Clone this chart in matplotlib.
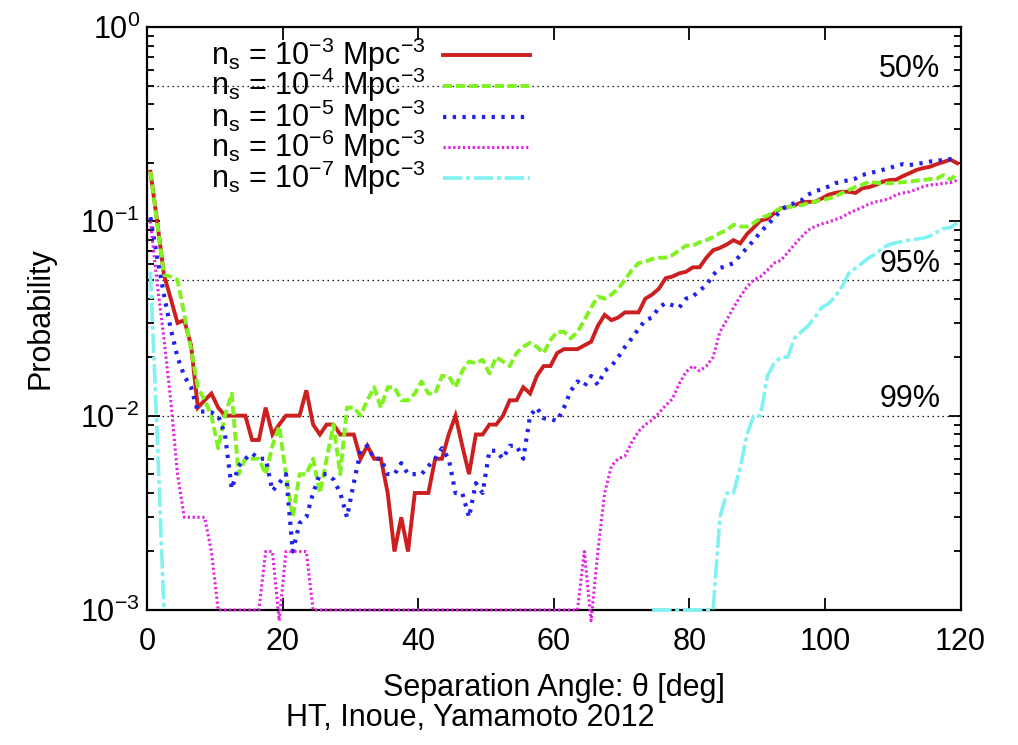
import numpy as np
import matplotlib
matplotlib.use("Agg")
import matplotlib.pyplot as plt
from matplotlib.lines import Line2D
from matplotlib.ticker import NullFormatter, LogLocator, FixedLocator

plt.rcParams['font.family'] = ['Liberation Sans', 'DejaVu Sans']
plt.rcParams['mathtext.fontset'] = 'custom'
plt.rcParams['mathtext.rm'] = 'Liberation Sans'
plt.rcParams['mathtext.it'] = 'Liberation Sans:italic'
plt.rcParams['mathtext.bf'] = 'Liberation Sans:bold'
plt.rcParams['lines.scale_dashes'] = False

nan = np.nan

# bin centres of separation angle [deg]
theta = np.arange(120) + 0.5

p_1e3 = [0.18, 0.10, 0.053, 0.040, 0.030, 0.031, 0.023, 0.011, 0.012, 0.013,
         0.011, 0.010, 0.010, 0.010, 0.010, 0.0075, 0.0075, 0.011, 0.008, 0.009,
         0.010, 0.010, 0.010, 0.0135, 0.009, 0.008, 0.009, 0.009, 0.008, 0.008,
         0.008, 0.006, 0.007, 0.006, 0.006, 0.004, 0.002, 0.003, 0.002, 0.004,
         0.004, 0.004, 0.006, 0.006, 0.008, 0.010, 0.007, 0.005, 0.008, 0.008,
         0.009, 0.009, 0.010, 0.012, 0.012, 0.014, 0.013, 0.016, 0.018, 0.018,
         0.021, 0.022, 0.022, 0.022, 0.023, 0.024, 0.029, 0.033, 0.031, 0.032,
         0.034, 0.034, 0.034, 0.040, 0.042, 0.045, 0.051, 0.052, 0.054, 0.055,
         0.058, 0.058, 0.065, 0.071, 0.073, 0.076, 0.080, 0.077, 0.086, 0.093,
         0.101, 0.103, 0.110, 0.117, 0.118, 0.121, 0.125, 0.126, 0.126, 0.131,
         0.137, 0.140, 0.142, 0.142, 0.140, 0.148, 0.150, 0.154, 0.160, 0.163,
         0.164, 0.171, 0.177, 0.184, 0.188, 0.191, 0.197, 0.202, 0.208, 0.199]

p_1e4 = [0.18, 0.098, 0.053, 0.052, 0.050, 0.033, 0.022, 0.014, 0.012, 0.010,
         0.0068, 0.010, 0.013, 0.005, 0.006, 0.006, 0.006, 0.005, 0.007, 0.0088,
         0.005, 0.003, 0.005, 0.005, 0.006, 0.004, 0.006, 0.009, 0.005, 0.011,
         0.011, 0.010, 0.012, 0.014, 0.011, 0.014, 0.014, 0.012, 0.012, 0.013,
         0.015, 0.013, 0.013, 0.016, 0.016, 0.014, 0.017, 0.019, 0.0186, 0.0194,
         0.0165, 0.020, 0.019, 0.018, 0.021, 0.0226, 0.0237, 0.0226, 0.021, 0.0245,
         0.027, 0.027, 0.025, 0.027, 0.031, 0.036, 0.041, 0.040, 0.042, 0.045,
         0.050, 0.056, 0.061, 0.062, 0.064, 0.065, 0.065, 0.067, 0.071, 0.075,
         0.075, 0.078, 0.080, 0.083, 0.087, 0.090, 0.096, 0.094, 0.094, 0.098,
         0.104, 0.107, 0.112, 0.117, 0.118, 0.120, 0.121, 0.124, 0.126, 0.129,
         0.131, 0.134, 0.140, 0.145, 0.150, 0.154, 0.160, 0.158, 0.157, 0.157,
         0.158, 0.159, 0.160, 0.162, 0.163, 0.165, 0.166, 0.173, 0.164, 0.176]

p_1e5 = [0.105, 0.065, 0.042, 0.028, 0.020, 0.016, 0.014, 0.0105, 0.0105, 0.0104,
         0.010, 0.008, 0.0042, 0.0055, 0.006, 0.0064, 0.006, 0.006, 0.0041, 0.0045,
         0.005, 0.002, 0.0028, 0.003, 0.004, 0.005, 0.005, 0.0047, 0.004, 0.003,
         0.0045, 0.0066, 0.007, 0.006, 0.006, 0.005, 0.005, 0.0057, 0.005, 0.005,
         0.005, 0.0055, 0.006, 0.0068, 0.006, 0.004, 0.004, 0.003, 0.0045, 0.004,
         0.0066, 0.0066, 0.006, 0.007, 0.007, 0.006, 0.010, 0.011, 0.0097, 0.0096,
         0.0094, 0.011, 0.0134, 0.015, 0.0142, 0.016, 0.0144, 0.017, 0.018, 0.020,
         0.0226, 0.025, 0.028, 0.031, 0.032, 0.036, 0.038, 0.037, 0.036, 0.040,
         0.041, 0.044, 0.047, 0.053, 0.0575, 0.059, 0.061, 0.067, 0.073, 0.080,
         0.088, 0.096, 0.104, 0.114, 0.121, 0.124, 0.128, 0.137, 0.143, 0.146,
         0.151, 0.157, 0.160, 0.163, 0.166, 0.173, 0.177, 0.180, 0.184, 0.188,
         0.193, 0.197, 0.195, 0.197, 0.200, 0.203, 0.205, 0.207, 0.209, 0.213]

p_1e6 = [0.100, 0.048, 0.025, 0.012, 0.005, 0.003, 0.003, 0.003, 0.003, 0.002,
         0.001, 0.001, 0.001, 0.001, 0.001, 0.001, 0.001, 0.002, 0.002, 0.00088,
         0.002, 0.002, 0.002, 0.002, 0.001, 0.001, 0.001, 0.001, 0.001, 0.001,
         0.001, 0.001, 0.001, 0.001, 0.001, 0.001, 0.001, 0.001, 0.001, 0.001,
         0.001, 0.001, 0.001, 0.001, 0.001, 0.001, 0.001, 0.001, 0.001, 0.001,
         0.001, 0.001, 0.001, 0.001, 0.001, 0.001, 0.001, 0.001, 0.001, 0.001,
         0.001, 0.001, 0.001, 0.001, 0.002, 0.00088, 0.002, 0.004, 0.0055, 0.006,
         0.0062, 0.0073, 0.0083, 0.009, 0.0095, 0.0103, 0.0113, 0.0122, 0.0146, 0.0168,
         0.018, 0.017, 0.018, 0.020, 0.027, 0.031, 0.036, 0.041, 0.046, 0.050,
         0.052, 0.056, 0.061, 0.063, 0.069, 0.076, 0.083, 0.090, 0.094, 0.097,
         0.099, 0.102, 0.105, 0.110, 0.114, 0.118, 0.123, 0.126, 0.128, 0.131,
         0.137, 0.140, 0.142, 0.146, 0.151, 0.154, 0.155, 0.157, 0.158, 0.163]

p_1e7 = [0.055, 0.008, 0.001, nan, nan, nan, nan, nan, nan, nan,
         nan, nan, nan, nan, nan, nan, nan, nan, nan, nan,
         nan, nan, nan, nan, nan, nan, nan, nan, nan, nan,
         nan, nan, nan, nan, nan, nan, nan, nan, nan, nan,
         nan, nan, nan, nan, nan, nan, nan, nan, nan, nan,
         nan, nan, nan, nan, nan, nan, nan, nan, nan, nan,
         nan, nan, nan, nan, nan, nan, nan, nan, nan, nan,
         nan, nan, nan, nan, 0.001, 0.001, 0.001, 0.001, 0.001, 0.001,
         0.001, 0.001, 0.001, 0.001, 0.003, 0.004, 0.004, 0.0054, 0.008, 0.010,
         0.010, 0.016, 0.0186, 0.020, 0.020, 0.025, 0.027, 0.029, 0.032, 0.036,
         0.0376, 0.041, 0.046, 0.054, 0.0575, 0.061, 0.065, 0.068, 0.073, 0.076,
         0.0775, 0.079, 0.080, 0.081, 0.082, 0.084, 0.088, 0.092, 0.093, 0.098]

series_labels = [r'n$_\mathregular{s}$ = 10$^\mathregular{-3}$ Mpc$^\mathregular{-3}$',
                 r'n$_\mathregular{s}$ = 10$^\mathregular{-4}$ Mpc$^\mathregular{-3}$',
                 r'n$_\mathregular{s}$ = 10$^\mathregular{-5}$ Mpc$^\mathregular{-3}$',
                 r'n$_\mathregular{s}$ = 10$^\mathregular{-6}$ Mpc$^\mathregular{-3}$',
                 r'n$_\mathregular{s}$ = 10$^\mathregular{-7}$ Mpc$^\mathregular{-3}$']
series = [p_1e3, p_1e4, p_1e5, p_1e6, p_1e7]

levels = [0.5, 0.05, 0.01]
level_labels = ['50%', '95%', '99%']

xticks = [0, 20, 40, 60, 80, 100, 120]
yticks = [1e-3, 1e-2, 1e-1, 1e0]
ytick_labels = [r'$\mathregular{10^{-3}}$', r'$\mathregular{10^{-2}}$',
                r'$\mathregular{10^{-1}}$', r'$\mathregular{10^{0}}$']

styles = [
    dict(color='#cc1f1f', lw=2.8, dashes=()),
    dict(color='#7ff21f', lw=2.8, dashes=(6.5, 2.8)),
    dict(color='#2222ee', lw=3.0, dashes=(2.4, 4.6)),
    dict(color='#e61ee6', lw=2.2, dashes=(1.6, 1.9)),
    dict(color='#80f2f2', lw=2.6, dashes=(14, 2.6, 3, 2.6)),
]

W, H = 1018, 745
fig = plt.figure(figsize=(W / 100, H / 100), dpi=100)
L, R, T, B = 147, 960.6, 27, 610
ax = fig.add_axes([L / W, 1 - B / H, (R - L) / W, (B - T) / H])

FS = 22

ax.set_yscale('log')
ax.set_xlim(0, 120)
ax.set_ylim(1e-3, 1)

for lv in levels:
    ax.axhline(lv, color='black', lw=0.9, dashes=(1.0, 2.6), zorder=1)

for vals, st in zip(series, styles):
    ln, = ax.plot(theta, vals, color=st['color'], lw=st['lw'], zorder=4,
                  clip_on=False, solid_joinstyle='miter')
    if st['dashes']:
        ln.set_dashes(st['dashes'])

for lv, lab in zip(levels, level_labels):
    ax.annotate(lab, xy=(117.0, lv), xytext=(0, 6), textcoords='offset points',
                ha='right', va='baseline', fontsize=FS)

# key (gnuplot style: text then sample)
row_px = [55, 85.5, 116.7, 146.7, 177.7]
for rp, lab, st in zip(row_px, series_labels, styles):
    ya = (B - rp) / (B - T)
    x_text = (426 - L) / (R - L)
    ax.text(x_text, (B - rp - 10) / (B - T), lab, transform=ax.transAxes,
            ha='right', va='baseline', fontsize=FS)
    sample = Line2D([(443 - L) / (R - L), (530 - L) / (R - L)], [ya, ya],
                    transform=ax.transAxes, color=st['color'], lw=st['lw'],
                    zorder=5)
    if st['dashes']:
        sample.set_dashes(st['dashes'])
    ax.add_line(sample)

ax.set_xticks(xticks)
ax.set_xticklabels([str(v) for v in xticks])
ax.yaxis.set_major_locator(FixedLocator(yticks))
ax.set_yticklabels(ytick_labels)
ax.yaxis.set_minor_locator(LogLocator(base=10, subs=np.arange(2, 10)))
ax.yaxis.set_minor_formatter(NullFormatter())

ax.tick_params(which='both', direction='in', top=True, right=True,
               labelsize=FS, width=1.3)
ax.tick_params(which='major', length=9)
ax.tick_params(which='minor', length=5)
ax.tick_params(axis='x', pad=12)
ax.tick_params(axis='y', pad=5)

for sp in ax.spines.values():
    sp.set_linewidth(1.6)
    sp.set_zorder(3)

ax.set_xlabel(r'Separation Angle: θ [deg]', fontsize=FS)
ax.xaxis.label.set_va('center')
ax.xaxis.set_label_coords(0.5, (B - 688) / (B - T))
ax.set_ylabel('Probability', fontsize=FS)
ax.yaxis.label.set_va('center')
ax.yaxis.set_label_coords((40 - L) / (R - L), 0.5)

fig.text(470 / W, 1 - 718 / H, 'HT, Inoue, Yamamoto 2012', ha='center',
         va='center', fontsize=FS)

fig.savefig('out.png', dpi=100)
